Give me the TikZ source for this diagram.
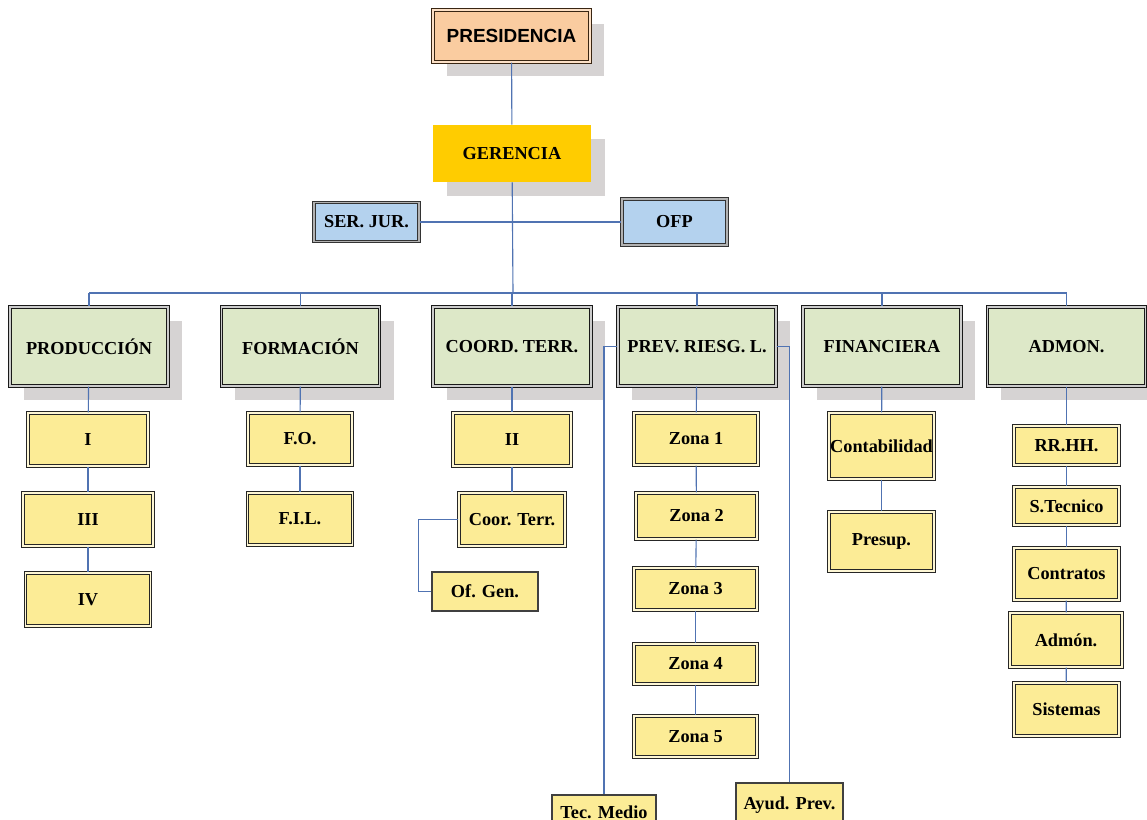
\documentclass[tikz,border=0pt]{standalone}
\usepackage{fontspec}
\setmainfont{Liberation Serif}
\newfontfamily\arialfont{Liberation Sans}
\usepackage{tikz}
\usetikzlibrary{shapes.geometric, positioning, shadows}

\definecolor{peach}{RGB}{250,204,160}
\definecolor{gold}{RGB}{255,204,0}
\definecolor{skyblue}{RGB}{180,210,238}
\definecolor{palegreen}{RGB}{221,232,200}
\definecolor{paleyellow}{RGB}{252,236,150}
\definecolor{shadowgray}{RGB}{214,211,211}
\definecolor{linkblue}{RGB}{80,115,178}

\begin{document}
\begin{tikzpicture}[x=0.025cm, y=-0.025cm, node distance=2cm, font=\bfseries\fontsize{13}{15}\selectfont]
\tikzstyle{boxshadow} = [drop shadow={shadow xshift=0.35cm, shadow yshift=-0.35cm, fill=shadowgray, opacity=1}]
\tikzstyle{head} = [rectangle, inner sep=0pt, text centered, fill=peach, draw=brown!30!black, line width=0.8pt, double=peach!60!white, double distance=1.2pt, boxshadow, font=\arialfont\bfseries\fontsize{13.5}{15}\selectfont]
\tikzstyle{manager} = [rectangle, inner sep=0pt, text centered, fill=gold, boxshadow]
\tikzstyle{staff} = [rectangle, inner sep=0pt, text centered, fill=skyblue, draw=black!80, line width=0.9pt, double=gray!60, double distance=0.9pt]
\tikzstyle{area} = [rectangle, inner sep=0pt, text centered, fill=palegreen, draw=black!90, line width=0.8pt, double=white!80!black, double distance=1.2pt, boxshadow, minimum width=3.95cm, minimum height=1.975cm]
\tikzstyle{unit} = [rectangle, inner sep=0pt, text centered, fill=paleyellow, draw=black!85, line width=0.8pt, double=white!60!paleyellow, double distance=1pt]
\tikzstyle{subunit} = [rectangle, inner sep=0pt, text centered, fill=paleyellow, draw=black!75, line width=0.9pt]
\tikzstyle{link} = [draw=linkblue, line width=0.8pt]

\useasboundingbox (0,0) rectangle (1147,820);
\clip (0,0) rectangle (1147,820);

% top
\node (pres) [head, minimum width=3.925cm, minimum height=1.3cm] at (511.5,36) {PRESIDENCIA};
\node (ger) [manager, minimum width=3.95cm, minimum height=1.425cm] at (512,153.5) {GERENCIA};
\node (serjur) [staff, minimum width=2.625cm, minimum height=0.975cm] at (366.5,222) {SER. JUR.};
\node (ofp) [staff, minimum width=2.625cm, minimum height=1.15cm] at (674.5,222) {OFP};

% areas
\node (prod) [area] at (89,346.5) {PRODUCCIÓN};
\node (form) [area] at (300.5,346.5) {FORMACIÓN};
\node (coord) [area] at (512,346.5) {COORD. TERR.};
\node (prev) [area] at (697,346.5) {PREV. RIESG. L.};
\node (fin) [area] at (882,346.5) {FINANCIERA};
\node (admon) [area] at (1066.5,346.5) {ADMON.};
\coordinate (bus) at (513,293);

% produccion
\node (i) [unit, minimum width=3cm, minimum height=1.325cm] at (88,439.5) {I};
\node (iii) [unit, below of=i, minimum width=3.25cm, minimum height=1.325cm] {III};
\node (iv) [unit, below of=iii, minimum width=3.125cm, minimum height=1.325cm] {IV};

% formacion
\node (fo) [unit, minimum width=2.6cm, minimum height=1.3cm] at (300,439) {F.O.};
\node (fil) [unit, below of=fo, minimum width=2.625cm, minimum height=1.3cm] {F.I.L.};

% coordinacion
\node (ii) [unit, minimum width=2.95cm, minimum height=1.325cm] at (512,439.5) {II};
\node (coorterr) [unit, below of=ii, minimum width=2.65cm, minimum height=1.325cm] {Coor. Terr.};
\node (ofgen) [subunit, minimum width=2.65cm, minimum height=0.975cm] at (485,591.5) {Of. Gen.};

% prevencion
\node (z1) [unit, minimum width=3.1cm, minimum height=1.3cm] at (696,439) {Zona 1};
\node (z2) [unit, minimum width=3.025cm, minimum height=1.15cm] at (696.5,516) {Zona 2};
\node (z3) [unit, minimum width=3.075cm, minimum height=1.05cm] at (695.5,589) {Zona 3};
\node (z4) [unit, minimum width=3.075cm, minimum height=1cm] at (695.5,664) {Zona 4};
\node (z5) [unit, minimum width=3.075cm, minimum height=1.025cm] at (695.5,736.5) {Zona 5};
\node (tecm) [subunit, minimum width=2.6cm, minimum height=0.85cm] at (604,812) {Tec. Medio};
\node (ayud) [subunit, minimum width=2.675cm, minimum height=1.1cm] at (789.5,805) {Ayud. Prev.};

% financiera
\node (conta) [unit, minimum width=2.625cm, minimum height=1.65cm] at (881.5,446) {Contabilidad};
\node (presup) [unit, minimum width=2.625cm, minimum height=1.475cm] at (881.5,541.5) {Presup.};

% administracion
\node (rrhh) [unit, minimum width=2.625cm, minimum height=0.975cm] at (1066.5,445.5) {RR.HH.};
\node (stec) [unit, minimum width=2.625cm, minimum height=0.95cm] at (1066.5,506) {S.Tecnico};
\node (contr) [unit, minimum width=2.625cm, minimum height=1.3cm] at (1066.5,574) {Contratos};
\node (adm) [unit, minimum width=2.8cm, minimum height=1.35cm] at (1066,640) {Admón.};
\node (sist) [unit, minimum width=2.625cm, minimum height=1.325cm] at (1066.5,709.5) {Sistemas};

% lines
\draw [link] (pres) -- (ger);
\draw [link] (ger) -- (bus);
\draw [link] (serjur) -- (ofp);
\draw [link] (bus -| prod) -- (bus -| admon);
\foreach \a in {prod,form,coord,prev,fin,admon}
  \draw [link] (bus -| \a) -- (\a);
\foreach \a/\b in {prod/i, i/iii, iii/iv, form/fo, fo/fil, coord/ii, ii/coorterr,
                   prev/z1, z1/z2, z2/z3, z3/z4, z4/z5, fin/conta, conta/presup,
                   admon/rrhh, rrhh/stec, stec/contr, contr/adm, adm/sist}
  \draw [link] (\a) -- (\b);
\draw [link] (coorterr.west) -- ++(-40,0) |- (ofgen.west);
\draw [link] (prev.west) -| (tecm.north);
\draw [link] (prev.east) -| (ayud.north);
\end{tikzpicture}
\end{document}
